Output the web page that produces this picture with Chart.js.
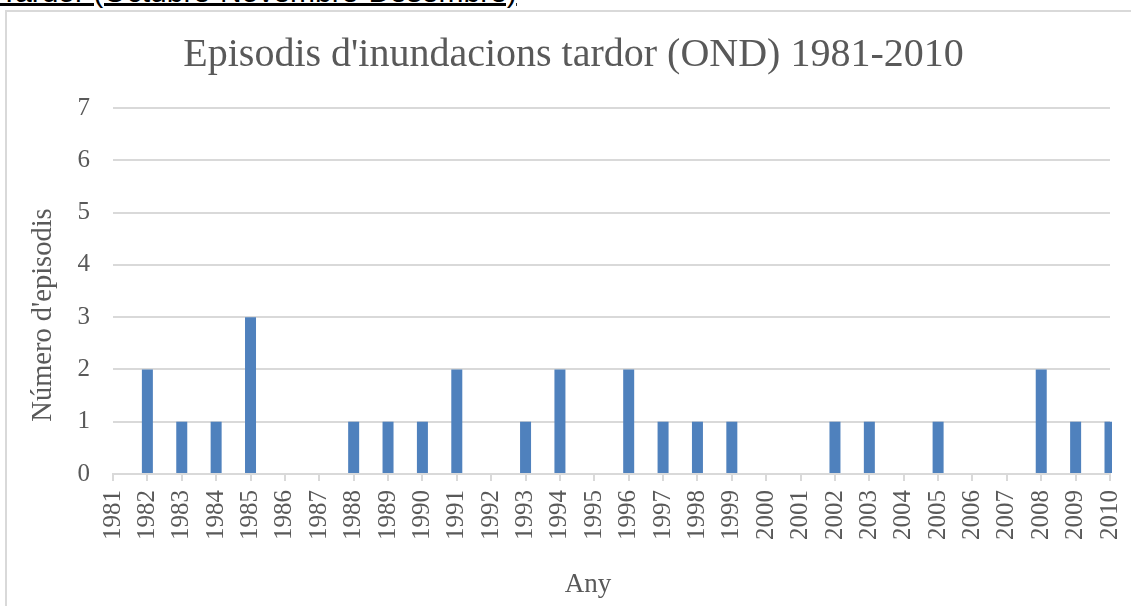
<!DOCTYPE html>
<html>
<head>
<meta charset="utf-8">
<title>Episodis d'inundacions tardor</title>
<script src="https://cdn.jsdelivr.net/npm/chart.js@4.4.1/dist/chart.umd.min.js"></script>
<style>
  html, body { margin: 0; padding: 0; background: #fff; overflow: hidden; }
  #heading {
    position: absolute; left: 0; top: -23px;
    font: 30px/30px "Liberation Sans", Arial, sans-serif; color: #000;
    text-decoration: underline; text-decoration-thickness: 2.5px; text-underline-offset: 1px;
    white-space: nowrap;
  }
  #frame { position: absolute; left: 5px; top: 10px; width: 1200px; height: 700px; border: 2px solid #d9d9d9; }
  #wrap { position: absolute; left: 0; top: 0; width: 1131px; height: 606px; }
</style>
</head>
<body>
<div id="heading">Tardor (Octubre-Novembre-Desembre)</div>
<div id="frame"></div>
<div id="wrap"><canvas id="chart"></canvas></div>
<script>
const years = ['1981', '1982', '1983', '1984', '1985', '1986', '1987', '1988', '1989', '1990',
               '1991', '1992', '1993', '1994', '1995', '1996', '1997', '1998', '1999', '2000',
               '2001', '2002', '2003', '2004', '2005', '2006', '2007', '2008', '2009', '2010'];
const episodes = [0, 2, 1, 1, 3, 0, 0, 1, 1, 1,
                  2, 0, 1, 2, 0, 2, 1, 1, 1, 0,
                  0, 1, 1, 0, 1, 0, 0, 2, 1, 1];
const yMin = 0;
const yMax = 7;
const yStep = 1;

const chartTitle = "Episodis d'inundacions tardor (OND) 1981-2010";
const yTitle = "Número d'episodis";
const xTitle = 'Any';

const textColor = '#595959';
const gridColor = '#d9d9d9';
const barColor = '#4f81bd';
const serif = "'Liberation Serif', 'Times New Roman', serif";

// both axis captions sit off the plot centre in the sheet, so draw them by hand
const axisCaptions = {
  id: 'axisCaptions',
  afterDraw(chart) {
    const ctx = chart.ctx;
    ctx.save();
    ctx.fillStyle = textColor;
    ctx.textAlign = 'center';
    ctx.textBaseline = 'alphabetic';
    ctx.font = `27px ${serif}`;
    ctx.fillText(xTitle, 588, 592);
    ctx.translate(51, 315);
    ctx.rotate(-Math.PI / 2);
    ctx.font = `28.5px ${serif}`;
    ctx.fillText(yTitle, 0, 0);
    ctx.restore();
  }
};

new Chart(document.getElementById('chart'), {
  type: 'bar',
  data: {
    labels: years,
    datasets: [{
      data: episodes,
      backgroundColor: barColor,
      barPercentage: 0.32,
      categoryPercentage: 1,
      clip: { left: 0, top: false, right: 2, bottom: 0 }
    }]
  },
  options: {
    responsive: true,
    maintainAspectRatio: false,
    animation: false,
    layout: { padding: { left: 37, right: 21, top: 0, bottom: 0 } },
    plugins: {
      legend: { display: false },
      tooltip: { enabled: false },
      title: {
        display: true,
        text: chartTitle,
        color: textColor,
        font: { family: serif, size: 40, weight: 'normal', lineHeight: 1.2 },
        padding: { top: 31, bottom: 29 }
      }
    },
    scales: {
      x: {
        offset: false,
        grid: { offset: false, drawOnChartArea: false, drawTicks: true, tickLength: 7, color: gridColor, lineWidth: 2 },
        border: { display: true, color: gridColor, width: 2 },
        ticks: {
          autoSkip: false, minRotation: 90, maxRotation: 90, padding: 9,
          color: textColor, font: { family: serif, size: 25 }
        },
        afterFit(scale) {
          scale.height = 132;
          scale.paddingLeft = 0;
          scale.paddingRight = 0;
        }
      },
      y: {
        min: yMin,
        max: yMax,
        grid: { drawTicks: false, color: gridColor, lineWidth: 2 },
        border: { display: false },
        ticks: { stepSize: yStep, padding: 23, color: textColor, font: { family: serif, size: 25 } },
        afterFit(scale) { scale.width = 76; }
      }
    }
  },
  plugins: [axisCaptions]
});
</script>
</body>
</html>
